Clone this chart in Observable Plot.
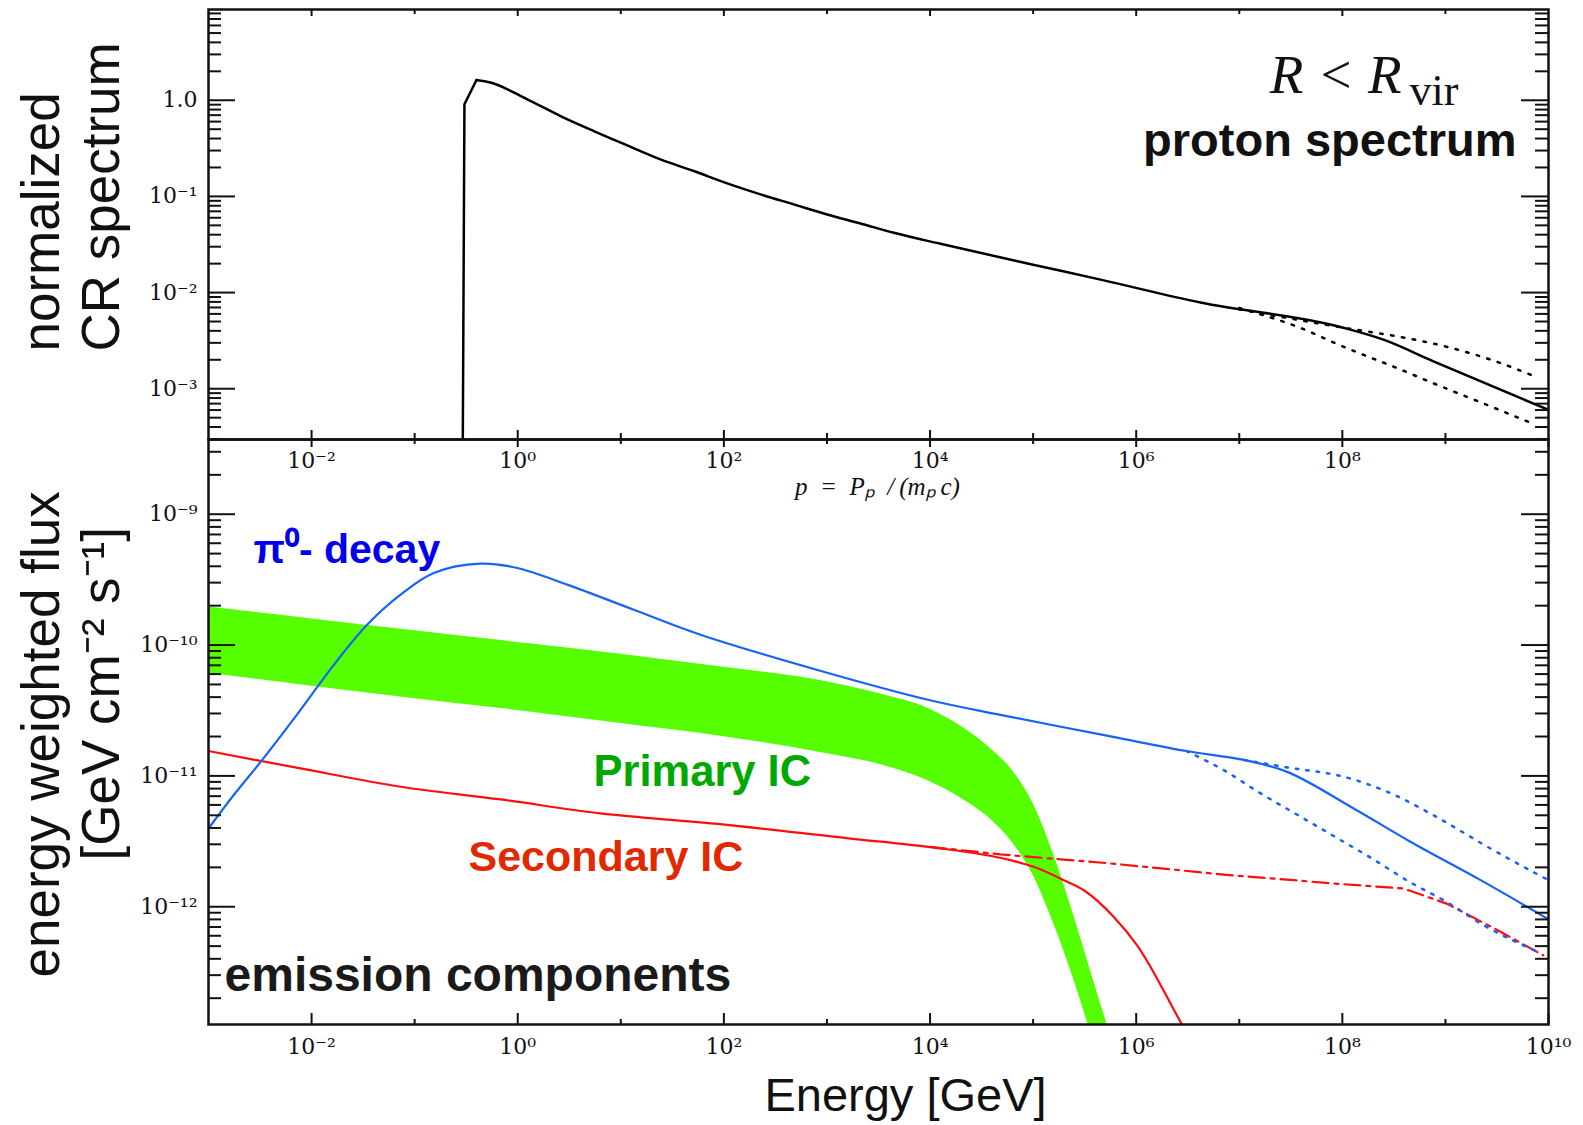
<!DOCTYPE html>
<html><head><meta charset="utf-8">
<script src="https://cdn.jsdelivr.net/npm/d3@7"></script>
<script src="https://cdn.jsdelivr.net/npm/@observablehq/plot@0.6"></script>
<style>
body{margin:0;background:#fff;}
#wrap{position:relative;width:1583px;height:1125px;overflow:hidden;background:#fff;}
#wrap svg{position:absolute;left:0;}
</style></head><body><div id="wrap"></div>
<script>
// ---------- TOP PANEL: normalized CR proton spectrum (log10 p, log10 N) ----------
// cut-off rise (sharp corner at the peak)
const protonRiseLogP = [-0.535, -0.517, -0.400];
const protonRiseLogN = [-4.0, -0.042, 0.211];
// smooth decline from the peak
const protonLogP = [-0.400, -0.264, 0.092, 0.415, 0.738, 1.062, 1.385, 1.708, 2.032, 2.355, 2.678, 3.002, 3.325, 3.648, 4.101, 5.0, 5.654, 6.624, 8.008, 8.399, 8.884, 10.0];
const protonLogN = [0.211, 0.184, 0.010, -0.164, -0.320, -0.469, -0.615, -0.736, -0.865, -0.979, -1.083, -1.188, -1.281, -1.378, -1.493, -1.71, -1.865, -2.104, -2.365, -2.49, -2.715, -3.22];
const protonHiLogP = [7.0, 8.008, 8.5, 9.0, 9.5, 9.874];
const protonHiLogN = [-2.175, -2.365, -2.45, -2.56, -2.72, -2.875];
const protonLoLogP = [7.0, 7.594, 8.008, 8.564, 8.887, 9.372, 9.874];
const protonLoLogN = [-2.16, -2.368, -2.562, -2.80, -2.945, -3.155, -3.375];

// ---------- BOTTOM PANEL: emission components (log10 E, log10 flux) ----------
const pionLogE = [-3.0, -2.755, -2.479, -2.107, -1.784, -1.461, -1.137, -0.814, -0.361, -0.005, 0.48, 1.126, 1.773, 2.95, 3.99, 4.683, 5.765, 6.487, 7.046, 7.477, 8.11, 8.651, 9.372, 10.0];
const pionLogF = [-11.402, -11.146, -10.878, -10.495, -10.151, -9.845, -9.615, -9.449, -9.378, -9.411, -9.538, -9.730, -9.921, -10.20, -10.42, -10.534, -10.70, -10.81, -10.878, -10.973, -11.249, -11.499, -11.81, -12.096];
const pionHiLogE = [7.046, 7.424, 8.074, 8.506, 8.939, 9.408, 10.0];
const pionHiLogF = [-10.878, -10.93, -11.019, -11.146, -11.325, -11.542, -11.797];
const pionLoLogE = [6.487, 6.847, 7.208, 7.569, 7.93, 8.289, 8.651, 9.011, 9.372, 9.91];
const pionLoLogF = [-10.81, -10.955, -11.134, -11.30, -11.466, -11.632, -11.81, -11.963, -12.142, -12.35];

const primaryLogE  = [-3, -2, -1, 0, 1, 2, 3, 3.5, 4, 4.3, 4.6, 4.8, 5.0, 5.2, 5.4, 5.6, 5.75];
const primaryHiLogF = [-9.71, -9.80, -9.89, -9.98, -10.07, -10.17, -10.28, -10.37, -10.49, -10.62, -10.80, -10.96, -11.21, -11.60, -12.08, -12.60, -12.98];
const primaryLoLogF = [-10.215, -10.315, -10.41, -10.50, -10.60, -10.70, -10.83, -10.91, -11.045, -11.17, -11.34, -11.51, -11.76, -12.13, -12.57, -13.07, -13.45];

const secondaryLogE = [-3.0, -2.107, -1.137, -0.167, 0.803, 1.912, 3.228, 4.005, 4.78, 5.007, 5.298, 5.492, 5.783, 6.009, 6.43, 6.6];
const secondaryLogF = [-10.81, -10.943, -11.083, -11.18, -11.287, -11.365, -11.479, -11.545, -11.644, -11.695, -11.797, -11.874, -12.078, -12.295, -12.88, -13.12];
const secondaryAltLogE = [4.0, 4.683, 5.765, 6.847, 7.93, 8.596, 9.011, 9.48, 9.949];
const secondaryAltLogF = [-11.542, -11.60, -11.67, -11.754, -11.823, -11.861, -11.976, -12.168, -12.371];

// ---------- ticks & labels ----------
const xMajorTop = [1e-2, 1e0, 1e2, 1e4, 1e6, 1e8];
const xMajorTopLabels = ["10⁻²", "10⁰", "10²", "10⁴", "10⁶", "10⁸"];
const xMajorBottom = [1e-2, 1e0, 1e2, 1e4, 1e6, 1e8, 1e10];
const xMajorBottomLabels = ["10⁻²", "10⁰", "10²", "10⁴", "10⁶", "10⁸", "10¹⁰"];
const xMinor = [1e-1, 1e1, 1e3, 1e5, 1e7, 1e9];
const yMajorTop = [1e0, 1e-1, 1e-2, 1e-3];
const yMajorTopLabels = ["1.0", "10⁻¹", "10⁻²", "10⁻³"];
const yMajorBottom = [1e-9, 1e-10, 1e-11, 1e-12];
const yMajorBottomLabels = ["10⁻⁹", "10⁻¹⁰", "10⁻¹¹", "10⁻¹²"];

const W = 1583, ML = 208, MR = 35, PW = W - ML - MR;
const TOP_H = 510, TOP_MT = 9, TOP_MB = 71, TOP_PH = TOP_H - TOP_MT - TOP_MB;
const BOT_H = 691, BOT_MT = 5, BOT_MB = 101, BOT_PH = BOT_H - BOT_MT - BOT_MB;
const INK = "#111";
const tickFont = "DejaVu Serif";
const sans = "Liberation Sans, Arial, sans-serif";

const pts = (lx, ly) => lx.map((v, i) => ({x: 10 ** v, y: 10 ** ly[i]}));
const band = primaryLogE.map((v, i) => ({x: 10 ** v, y1: 10 ** primaryHiLogF[i], y2: 10 ** primaryLoLogF[i]}));
const minorsIn = ([lo, hi]) => {
  const out = [];
  for (let e = Math.floor(Math.log10(lo)); e <= Math.ceil(Math.log10(hi)); e++)
    for (let m = 2; m <= 9; m++) { const v = m * 10 ** e; if (v > lo && v < hi) out.push(v); }
  return out;
};
const fmtFrom = (vals, labels) => d => labels[vals.findIndex(v => Math.abs(Math.log10(v) - Math.log10(d)) < 1e-6)] ?? "";

function frameTicks(yMajor, yMinor, ph, xTop, xBot) {
  return [
    Plot.tickY(yMajor, {insetRight: PW - 27, stroke: INK, strokeWidth: 2}),
    Plot.tickY(yMinor, {insetRight: PW - 13, stroke: INK, strokeWidth: 2}),
    Plot.tickY(yMajor, {insetLeft: PW - 27, stroke: INK, strokeWidth: 2}),
    Plot.tickY(yMinor, {insetLeft: PW - 13, stroke: INK, strokeWidth: 2}),
    Plot.tickX(xTop.major, {insetBottom: ph - xTop.majorLen, stroke: INK, strokeWidth: 2}),
    Plot.tickX(xMinor, {insetBottom: ph - xTop.minorLen, stroke: INK, strokeWidth: 2}),
    Plot.tickX(xBot.major, {insetTop: ph - xBot.majorLen, stroke: INK, strokeWidth: 2}),
    Plot.tickX(xMinor, {insetTop: ph - xBot.minorLen, stroke: INK, strokeWidth: 2}),
    Plot.frame({stroke: INK, strokeWidth: 2.5})
  ];
}

// ---------- top plot ----------
const yTopDomain = [10 ** -3.528, 10 ** 0.944];
const topPlot = Plot.plot({
  width: W, height: TOP_H, marginTop: TOP_MT, marginBottom: TOP_MB, marginLeft: ML, marginRight: MR,
  style: {background: "transparent", overflow: "visible", color: INK},
  x: {type: "log", domain: [1e-3, 1e10]},
  y: {type: "log", domain: yTopDomain},
  marks: [
    Plot.line(pts(protonHiLogP, protonHiLogN), {x: "x", y: "y", stroke: "#000", strokeWidth: 2.5, strokeDasharray: "2.5,8.5", curve: "monotone-x", clip: true}),
    Plot.line(pts(protonLoLogP, protonLoLogN), {x: "x", y: "y", stroke: "#000", strokeWidth: 2.5, strokeDasharray: "2.5,8.5", curve: "monotone-x", clip: true}),
    Plot.line(pts(protonRiseLogP, protonRiseLogN), {x: "x", y: "y", stroke: "#000", strokeWidth: 2.5, clip: true}),
    Plot.line(pts(protonLogP, protonLogN), {x: "x", y: "y", stroke: "#000", strokeWidth: 2.5, curve: "monotone-x", clip: true}),
    ...frameTicks(yMajorTop, minorsIn(yTopDomain), TOP_PH,
      {major: xMajorTop, majorLen: 7, minorLen: 5},
      {major: xMajorTop, majorLen: 9, minorLen: 6}),
    Plot.axisY({ticks: yMajorTop, tickFormat: fmtFrom(yMajorTop, yMajorTopLabels), tickSize: 0, tickPadding: 11, fontSize: 22, fontFamily: tickFont, label: null}),
    Plot.axisX({ticks: xMajorTop, tickFormat: fmtFrom(xMajorTop, xMajorTopLabels), tickSize: 0, tickPadding: 13, fontSize: 22, fontFamily: tickFont, label: null}),
    Plot.text(["p\u2002=\u2002Pₚ\u2002/\u2009(mₚ\u2009c)"], {frameAnchor: "bottom", dx: -1, dy: 55, lineAnchor: "bottom", fontSize: 25, fontStyle: "italic", fontFamily: "Liberation Serif, serif", fill: INK}),
    Plot.text(["R < R"], {frameAnchor: "top-right", dx: -147, dy: 83, textAnchor: "end", lineAnchor: "bottom", fontSize: 55, fontStyle: "italic", fontFamily: "Liberation Serif, serif", fill: INK}),
    Plot.text(["vir"], {frameAnchor: "top-right", dx: -139, dy: 95, textAnchor: "start", lineAnchor: "bottom", fontSize: 44, fontFamily: "Liberation Serif, serif", fill: INK}),
    Plot.text(["proton spectrum"], {frameAnchor: "top-right", dx: -32, dy: 146, textAnchor: "end", lineAnchor: "bottom", fontSize: 47, fontWeight: "bold", fontFamily: sans, fill: INK}),
    Plot.text(["normalized"], {frameAnchor: "bottom-left", dx: -149.5, dy: -88, rotate: -90, textAnchor: "start", lineAnchor: "bottom", fontSize: 53, fontFamily: sans, fill: INK}),
    Plot.text(["CR spectrum"], {frameAnchor: "bottom-left", dx: -90, dy: -88, rotate: -90, textAnchor: "start", lineAnchor: "bottom", fontSize: 53, fontFamily: sans, fill: INK})
  ]
});
topPlot.style.top = "0px";

// ---------- bottom plot ----------
const yBotDomain = [10 ** -12.9, 10 ** -8.429];
const BLUE = "#1763f3", RED = "#ff0d0d", GREEN = "#55ff00";
const botPlot = Plot.plot({
  width: W, height: BOT_H, marginTop: BOT_MT, marginBottom: BOT_MB, marginLeft: ML, marginRight: MR,
  style: {background: "transparent", overflow: "visible", color: INK},
  x: {type: "log", domain: [1e-3, 1e10]},
  y: {type: "log", domain: yBotDomain},
  marks: [
    Plot.areaY(band, {x: "x", y1: "y1", y2: "y2", fill: GREEN, curve: "monotone-x", clip: true}),
    Plot.line(pts(secondaryLogE, secondaryLogF), {x: "x", y: "y", stroke: RED, strokeWidth: 2.2, curve: "monotone-x", clip: true}),
    Plot.line(pts(secondaryAltLogE, secondaryAltLogF), {x: "x", y: "y", stroke: RED, strokeWidth: 2.2, strokeDasharray: "16,6,4,6", clip: true}),
    Plot.line(pts(pionHiLogE, pionHiLogF), {x: "x", y: "y", stroke: BLUE, strokeWidth: 2.5, strokeDasharray: "2.5,8", curve: "monotone-x", clip: true}),
    Plot.line(pts(pionLoLogE, pionLoLogF), {x: "x", y: "y", stroke: BLUE, strokeWidth: 2.5, strokeDasharray: "2.5,8", curve: "monotone-x", clip: true}),
    Plot.line(pts(pionLogE, pionLogF), {x: "x", y: "y", stroke: BLUE, strokeWidth: 2.2, curve: "catmull-rom", clip: true}),
    ...frameTicks(yMajorBottom, minorsIn(yBotDomain), BOT_PH,
      {major: xMajorBottom, majorLen: 8, minorLen: 5},
      {major: xMajorBottom, majorLen: 11, minorLen: 5}),
    Plot.axisY({ticks: yMajorBottom, tickFormat: fmtFrom(yMajorBottom, yMajorBottomLabels), tickSize: 0, tickPadding: 11, fontSize: 22, fontFamily: tickFont, label: null}),
    Plot.axisX({ticks: xMajorBottom, tickFormat: fmtFrom(xMajorBottom, xMajorBottomLabels), tickSize: 0, tickPadding: 14, fontSize: 22, fontFamily: tickFont, label: null}),
    Plot.text(["π⁰- decay"], {frameAnchor: "top-left", dx: 45, dy: 123, textAnchor: "start", lineAnchor: "bottom", fontSize: 41, fontWeight: "bold", fontFamily: sans, fill: "#0000ee"}),
    Plot.text(["Primary IC"], {frameAnchor: "top-left", dx: 385, dy: 346, textAnchor: "start", lineAnchor: "bottom", fontSize: 43.5, fontWeight: "bold", fontFamily: sans, fill: "#00a800"}),
    Plot.text(["Secondary IC"], {frameAnchor: "top-left", dx: 260, dy: 431, textAnchor: "start", lineAnchor: "bottom", fontSize: 43, fontWeight: "bold", fontFamily: sans, fill: "#e22800"}),
    Plot.text(["emission components"], {frameAnchor: "top-left", dx: 16, dy: 551, textAnchor: "start", lineAnchor: "bottom", fontSize: 48, fontWeight: "bold", fontFamily: sans, fill: "#1a1a1a"}),
    Plot.text(["Energy [GeV]"], {frameAnchor: "bottom", dx: 27, dy: 86, textAnchor: "middle", lineAnchor: "bottom", fontSize: 47, fontFamily: sans, fill: INK}),
    Plot.text(["energy weighted flux"], {frameAnchor: "bottom-left", dx: -149.5, dy: -47, rotate: -90, textAnchor: "start", lineAnchor: "bottom", fontSize: 53, fontFamily: sans, fill: INK}),
    Plot.text(["[GeV cm⁻² s⁻¹]"], {frameAnchor: "bottom-left", dx: -90, dy: -164, rotate: -90, textAnchor: "start", lineAnchor: "bottom", fontSize: 53, fontFamily: sans, fill: INK})
  ]
});
botPlot.style.top = "434px";

const wrap = document.getElementById("wrap");
wrap.appendChild(botPlot);
wrap.appendChild(topPlot);
</script></body></html>
